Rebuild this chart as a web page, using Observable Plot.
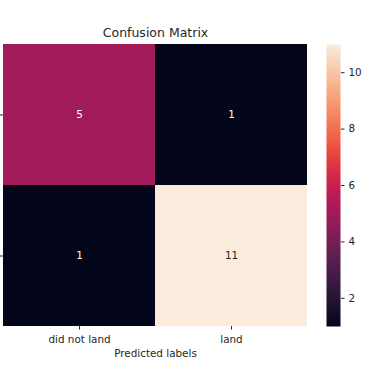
<!DOCTYPE html>
<html><head><meta charset="utf-8">
<script src="https://cdn.jsdelivr.net/npm/d3@7"></script>
<script src="https://cdn.jsdelivr.net/npm/@observablehq/plot@0.6"></script>
<style>
body{margin:0;background:#fff;}
#wrap{position:relative;width:375px;height:366px;overflow:hidden;}
#wrap > svg{position:absolute;top:0;}
</style>
</head><body><div id="wrap"></div>
<script>
const labels = ["did not land", "land"];
const trueLabels = ["did not land", "did not land", "land", "land"];
const predLabels = ["did not land", "land", "did not land", "land"];
const counts = [5, 1, 1, 11];
const colorTicks = [2, 4, 6, 8, 10];
const colorDomain = [1, 11];
const rocketStops = ["#03051A","#221331","#451C47","#691F55","#921C5B","#B91657","#D92847","#ED513E","#F47C56","#F6A47C","#F7C9AA","#FAEBDD"];

const cells = counts.map((v, i) => ({truth: trueLabels[i], pred: predLabels[i], value: v}));
const colorOpt = {type: "linear", domain: colorDomain, interpolate: d3.interpolateRgbBasis(rocketStops)};
const font = "DejaVu Sans, sans-serif";
const fs = 10.4;

const main = Plot.plot({
  width: 375, height: 366,
  marginLeft: 3, marginRight: 68, marginTop: 44, marginBottom: 40,
  style: {fontFamily: font, fontSize: fs + "px", color: "#262626", overflow: "visible"},
  x: {domain: labels, padding: 0, label: null},
  y: {domain: labels, padding: 0, label: null},
  color: colorOpt,
  marks: [
    Plot.cell(cells, {x: "pred", y: "truth", fill: "value"}),
    Plot.text(cells, {x: "pred", y: "truth", text: d => String(d.value), fill: d => d.value > 7 ? "#262626" : "#ffffff", fontSize: fs}),
    Plot.axisX({tickSize: 3.5, tickPadding: 6, fontSize: fs, label: null}),
    Plot.axisY({tickSize: 3.5, tickFormat: () => "", label: null}),
    Plot.text(["Predicted labels"], {frameAnchor: "bottom", lineAnchor: "middle", dy: 27.5, fontSize: fs, fill: "#262626"}),
    Plot.text(["Confusion Matrix"], {frameAnchor: "top", lineAnchor: "middle", dy: -11.5, fontSize: 12.5, fill: "#262626"})
  ]
});

const bar = Plot.plot({
  width: 75, height: 366,
  marginLeft: 26, marginRight: 35, marginTop: 44, marginBottom: 40,
  style: {fontFamily: font, fontSize: fs + "px", color: "#262626", overflow: "visible"},
  x: {domain: [0, 1], axis: null},
  y: {domain: colorDomain, label: null, ticks: colorTicks},
  color: colorOpt,
  marks: [
    Plot.raster({x1: 0, x2: 1, y1: colorDomain[0], y2: colorDomain[1], width: 1, height: 282, fill: (x, y) => y, imageRendering: "auto"}),
    Plot.axisY({anchor: "right", ticks: colorTicks, tickSize: 3.5, tickPadding: 4.5, fontSize: fs, label: null})
  ]
});
bar.style.left = "300px";
main.style.left = "0px";
document.getElementById("wrap").append(main, bar);
</script>
</body></html>
